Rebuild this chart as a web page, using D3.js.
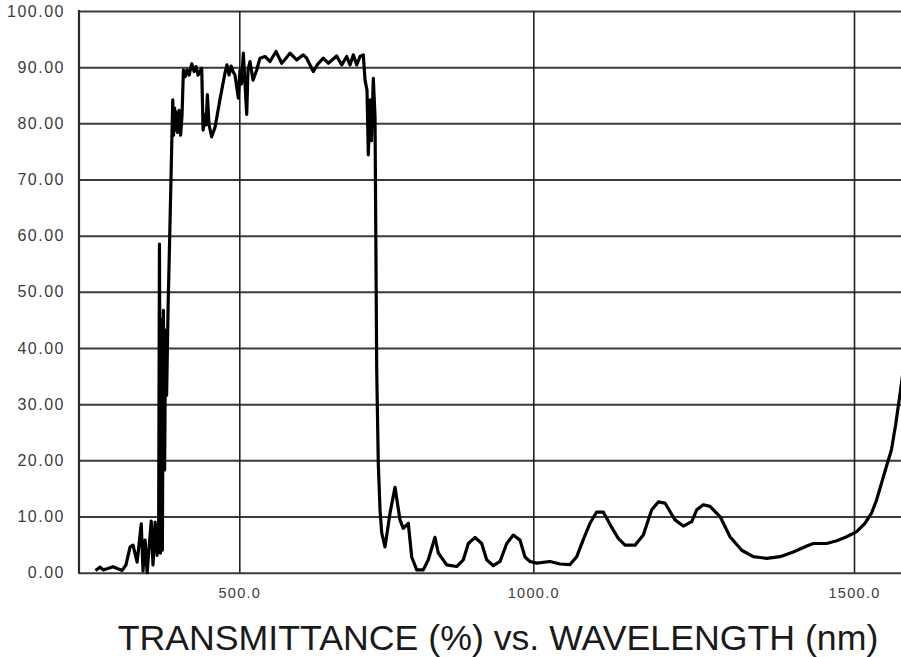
<!DOCTYPE html>
<html>
<head>
<meta charset="utf-8">
<script src="https://cdn.jsdelivr.net/npm/d3@7"></script>
<style>
  html, body { margin: 0; padding: 0; background: #fff; }
  svg { display: block; }
  text { font-family: "Liberation Sans", Arial, Helvetica, sans-serif; }
</style>
</head>
<body>
<svg id="chart" width="901" height="657"></svg>
<script>
// ---- data ----
const wavelength = [
  255, 263, 268, 275, 285, 292, 300.5, 307, 314, 319, 326, 333, 336, 339.6, 343, 350, 353, 356.7, 360,
  362.6, 364, 365.7, 367.4, 369, 370.7, 372.8, 374.4, 376.2, 378.7, 382, 385, 386.7, 388, 389.8, 391.5,
  393.2, 394.9, 397.4, 400, 402.5, 404.8, 407.7, 411, 414.5, 419, 423, 426.4, 429.8, 436, 438.3, 441.7,
  443.4, 445.6, 448.5, 453, 458.7, 467, 475.7, 479, 482.5, 486, 489.3, 492.7, 498.3, 501.2, 503.7, 506.8,
  512.6, 514.8, 518.2, 523.3, 529.6, 535.2, 543.7, 552.2, 562.4, 572.1, 579.4, 586.2, 597.6, 608.8, 614.6,
  625.9, 633.8, 642.9, 651.4, 665.6, 674.2, 682.7, 688.3, 693.9, 699.7, 705.3, 710.9, 713.8, 717.2, 719.4,
  722.3, 724.8, 727.9, 730.8, 733.7, 736.4, 739.3, 742.2, 747.8, 756.3, 764.8, 773.3, 778.9, 787.4, 793.2,
  801.7, 812.9, 821.4, 832.8, 838.4, 852.7, 869.7, 881, 889.5, 900.9, 912.2, 920.7, 932, 943.4, 954.8, 966,
  977.4, 985.9, 994.4, 1005.3, 1026, 1041.6, 1057.2, 1067.7, 1079, 1088.4, 1098.8, 1109.1, 1121.1, 1132.5,
  1143, 1158.6, 1171.5, 1184.6, 1194.9, 1205.3, 1220.9, 1233.9, 1247, 1254.8, 1265, 1275.5, 1291.1, 1306.7,
  1324.9, 1343, 1363.9, 1384.6, 1405.4, 1426.3, 1436.6, 1457.4, 1473, 1488.6, 1504.2, 1517.2, 1527.6,
  1535.4, 1543.2, 1551, 1558.8, 1565.5, 1573.3, 1579.6
];
const transmittance = [
  0.4, 1.0, 0.5, 0.7, 1.07, 0.75, 0.4, 1.4, 4.6, 4.9, 1.9, 8.7, 0.3, 5.8, 0, 9.2, 1.4, 9.0, 3.1,
  5.8, 58.5, 3.5, 45, 4, 46.7, 18.3, 43.2, 31.6, 47.1, 62.2, 76.5, 84.2, 77.9, 82.7, 78.8,
  82, 78.4, 82.3, 77.9, 81.5, 89.5, 88.3, 89.5, 88.6, 90.6, 89.2, 90.1, 88.6, 89.8, 78.8, 81.6,
  79.7, 85.1, 79.7, 77.6, 79.3, 84.2, 89, 90.4, 88.6, 90.2, 89.2, 88.6, 84.5, 89.5, 87, 92.5,
  81.6, 89.5, 91, 87.7, 89.5, 91.6, 91.9, 91, 92.8, 90.7, 91.6, 92.5, 91.3, 92.2, 91.6,
  89.2, 90.6, 91.6, 90.7, 92, 90.4, 91.9, 90.4, 92.2, 90.4, 91.9, 92.2, 87.7, 85.9, 74.4,
  84.2, 76.9, 88, 81.2, 36.1, 19.4, 11.2, 7.1, 4.6, 10.6, 15.2, 9.4, 7.9, 8.8, 2.8,
  0.5, 0.5, 2.3, 6.3, 3.5, 1.4, 1.1, 2.3, 5.2, 6.3, 5.2, 2.3, 1.25, 2, 5.2, 6.7,
  5.8, 2.8, 2, 1.7, 2, 1.55, 1.45, 2.85, 6.2, 8.8, 10.8, 10.8, 8.3, 6.1,
  4.9, 4.9, 6.7, 11.2, 12.6, 12.4, 9.4, 8.3, 9.1, 11.2, 12.1, 11.8, 10, 6.4,
  4.0, 2.85, 2.56, 2.85, 3.7, 4.75, 5.2, 5.2, 5.7, 6.4, 7.3, 8.8, 10.6,
  12.9, 15.9, 18.9, 21.8, 26.3, 32.5, 37.9
];
const yTicks = [0, 10, 20, 30, 40, 50, 60, 70, 80, 90, 100];
const xTicks = [500, 1000, 1500];
const xDomain = [227, 500, 1000, 1500, 1574];
const titleText = "TRANSMITTANCE (%) vs. WAVELENGTH (nm)";

(function () {
  const svg = d3.select("#chart");
  const pL = 79, pR = 901, pT = 11, pB = 572.7;

  // piecewise x scale (the instrument's wavelength axis is not uniform)
  const x = d3.scaleLinear()
    .domain(xDomain)
    .range([pL, 239.3, 533.3, 854, pR]);
  const y = d3.scaleLinear().domain([0, 100]).range([pB, pT]);

  // horizontal grid + y labels
  const yAxis = d3.axisLeft(y)
    .tickValues(yTicks)
    .tickSize(-(pR - pL + 10))
    .tickPadding(14)
    .tickFormat(d3.format(".2f"));
  const gy = svg.append("g").attr("transform", `translate(${pL},0)`).call(yAxis);
  gy.select(".domain").remove();
  gy.selectAll(".tick line").attr("stroke", "#3a3a3a").attr("stroke-width", 2);
  gy.selectAll(".tick text")
    .attr("fill", "#3c3c3c")
    .style("font-size", "16px")
    .style("letter-spacing", "1.5px");

  // vertical grid + x labels
  const xAxis = d3.axisBottom(x)
    .tickValues(xTicks)
    .tickSize(-(pB - pT))
    .tickPadding(15)
    .tickFormat(d3.format(".1f"));
  const gx = svg.append("g").attr("transform", `translate(0,${pB})`).call(xAxis);
  gx.select(".domain").remove();
  gx.selectAll(".tick line").attr("stroke", "#222").attr("stroke-width", 1.6);
  gx.selectAll(".tick text")
    .attr("fill", "#3c3c3c")
    .style("font-size", "14.5px")
    .style("letter-spacing", "1.3px");

  // left frame line
  svg.append("line")
    .attr("x1", pL).attr("x2", pL)
    .attr("y1", pT - 1).attr("y2", pB + 1)
    .attr("stroke", "#2a2a2a").attr("stroke-width", 2.2);

  // data curve
  svg.append("clipPath").attr("id", "clip")
    .append("rect").attr("x", pL).attr("y", 0).attr("width", pR - pL).attr("height", pB + 6);

  const n = Math.min(wavelength.length, transmittance.length);
  const pts = d3.range(n).map(i => [wavelength[i], transmittance[i]]);
  const line = d3.line().x(d => x(d[0])).y(d => y(d[1]));
  svg.append("path")
    .datum(pts)
    .attr("clip-path", "url(#clip)")
    .attr("fill", "none")
    .attr("stroke", "#000")
    .attr("stroke-width", 3.2)
    .attr("stroke-linejoin", "round")
    .attr("d", line);

  // title
  svg.append("text")
    .attr("x", 498)
    .attr("y", 650)
    .attr("text-anchor", "middle")
    .attr("fill", "#1a1a1a")
    .style("font-size", "35.7px")
    .text(titleText);
})();
</script>
</body>
</html>
